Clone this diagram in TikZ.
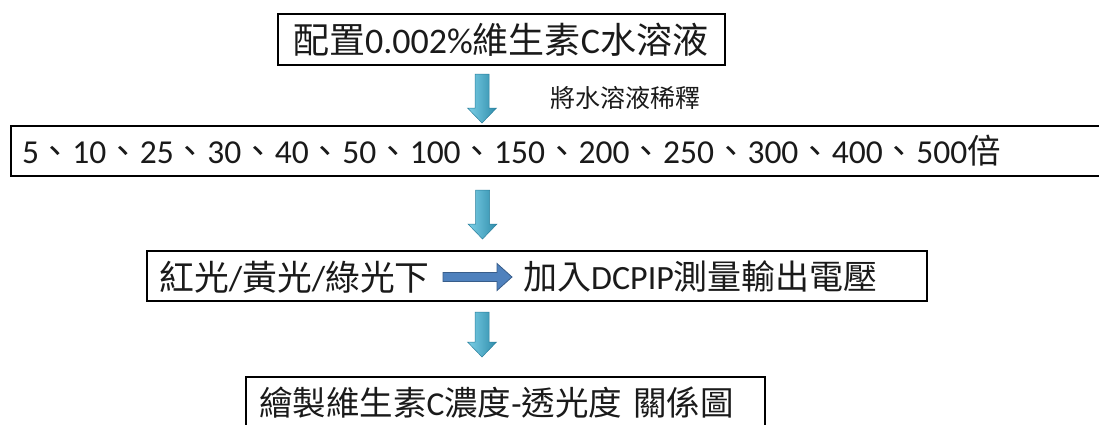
\documentclass[tikz,border=0pt]{standalone}
\usepackage{fontspec}
\setmainfont{Carlito}
\newfontfamily\cjk{Noto Sans CJK TC}
\usetikzlibrary{calc}
\definecolor{arrL}{HTML}{7CCFE6}
\definecolor{arrR}{HTML}{2E8CAB}
\definecolor{arrE}{HTML}{2A7F9C}
\definecolor{hfill}{HTML}{4F81BD}
\definecolor{hdraw}{HTML}{385D8A}
\definecolor{txtc}{HTML}{1A1A1A}
\newcommand\fsz[1]{\fontsize{#1}{#1}\selectfont}
\newcommand\blkdown[2]{%
  \path[draw=arrE, line width=0.5pt, left color=arrL, right color=arrR]
    ($(#1)+(-7,0)$) -- ($(#2)+(-7,-15)$) -- ($(#2)+(-14.5,-15)$) -- (#2)
    -- ($(#2)+(14.5,-15)$) -- ($(#2)+(7,-15)$) -- ($(#1)+(7,0)$) -- cycle;}
\tikzset{
  box/.style={draw=black, line width=1.6pt, inner ysep=0pt, text=txtc},
  txt/.style={inner sep=0pt, text=txtc},
}
\begin{document}
\begin{tikzpicture}[x=1pt, y=-1pt]
\useasboundingbox (0,0) rectangle (1099,424);
\clip (0,0) rectangle (1099,424);
\fill[white] (0,0) rectangle (1099,424);
% box 1
\node[box, minimum height=51, inner xsep=15, text width=417, align=left, font=\fsz{36}] (b1) at (501.5,39.5)
  {{\cjk 配置}0.002\%{\cjk 維生素}C{\cjk 水溶液}};
% box 2
\node[box, minimum height=50, inner xsep=11, text width=1077, align=left, font=\fsz{33.5}] (b2) at (560.5,151)
  {5{\cjk 、}10{\cjk 、}25{\cjk 、}30{\cjk 、}40{\cjk 、}50{\cjk 、}100{\cjk 、}150{\cjk 、}200{\cjk 、}250{\cjk 、}300{\cjk 、}400{\cjk 、}500{\cjk 倍}};
% box 3
\node[box, minimum width=780, minimum height=50] (b3) at (537,276) {};
\node[txt, anchor=west, font=\fsz{34.8}] (l3) at (159,277) {{\cjk 紅光}/{\cjk 黃光}/{\cjk 綠光下}};
\node[txt, anchor=west, font=\fsz{34}] (r3) at (523,277) {{\cjk 加入}DCPIP{\cjk 測量輸出電壓}};
% box 4
\node[box, minimum height=52, inner xsep=13, text width=493, align=left, font=\fsz{33.5}] (b4) at (505.5,403)
  {{\cjk 繪製維生素}C{\cjk 濃度}-{\cjk 透光度} {\cjk 關係圖}};
% label
\node[txt, font=\fsz{25}\cjk] (lab) at (625,98) {將水溶液稀釋};
% down arrows
\coordinate (d1s) at (482,74);  \coordinate (d1t) at (482,123);
\coordinate (d2s) at (482.5,190); \coordinate (d2t) at (482.5,239);
\coordinate (d3s) at (482,312); \coordinate (d3t) at (482,357);
\blkdown{d1s}{d1t}
\blkdown{d2s}{d2t}
\blkdown{d3s}{d3t}
% horizontal arrow
\coordinate (a1) at ($(r3.west)+(-11,0)$);
\coordinate (a0) at ($(a1)+(-69,0)$);
\path[fill=hfill, draw=hdraw, line width=0.8pt]
  ($(a0)+(0,-4.5)$) -- ($(a1)+(-15,-4.5)$) -- ($(a1)+(-15,-13.5)$) -- (a1)
  -- ($(a1)+(-15,13.5)$) -- ($(a1)+(-15,4.5)$) -- ($(a0)+(0,4.5)$) -- cycle;
\end{tikzpicture}
\end{document}
